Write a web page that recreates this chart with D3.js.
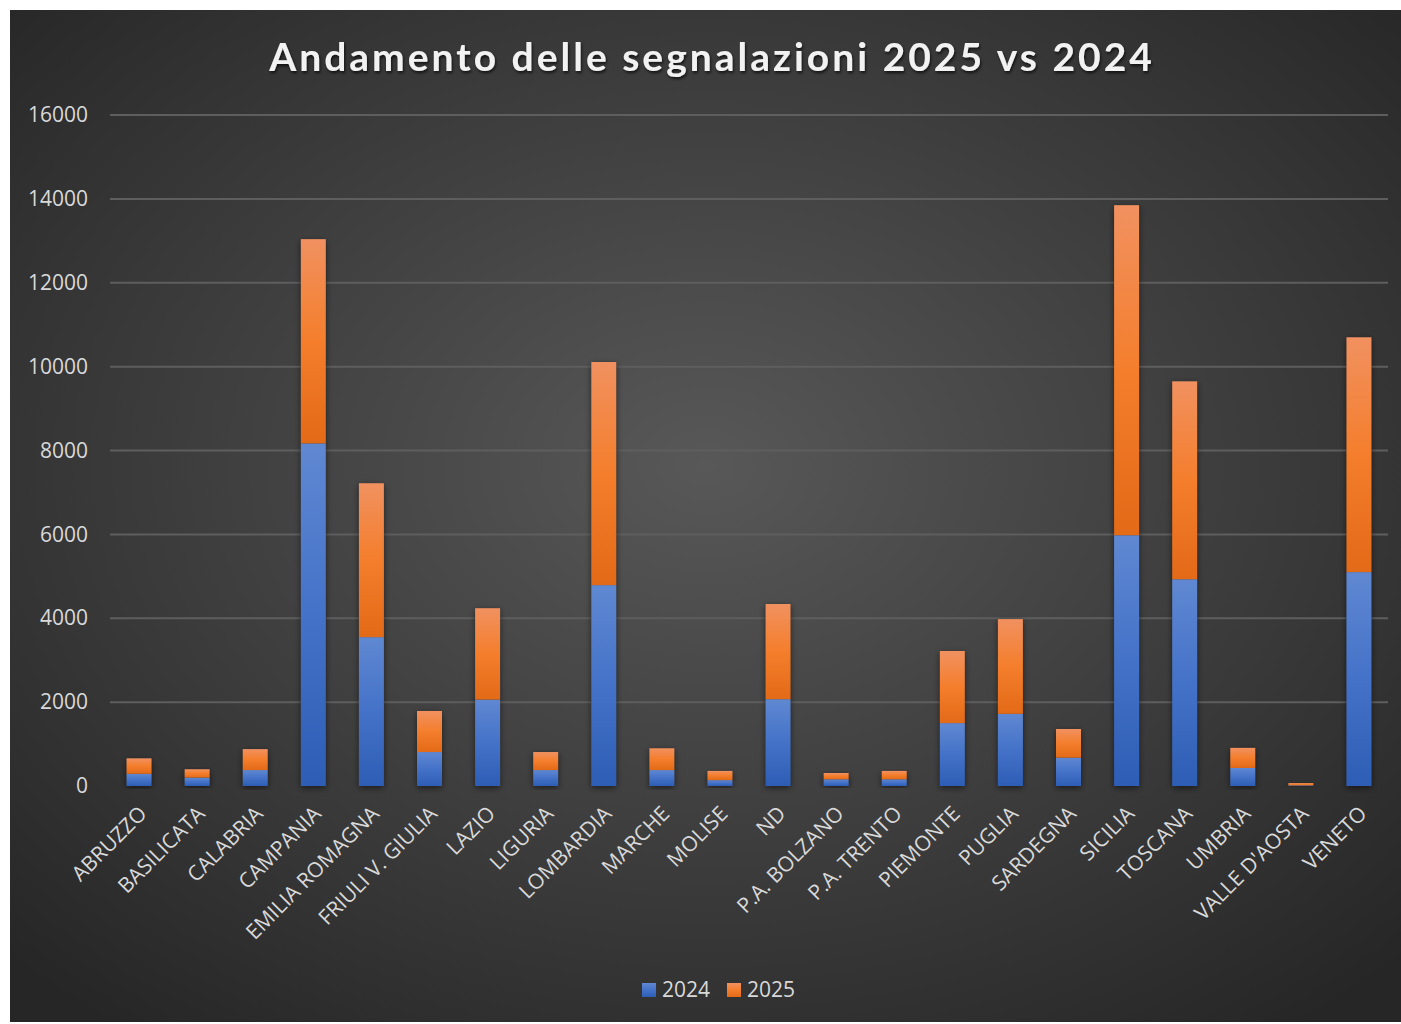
<!DOCTYPE html>
<html>
<head>
<meta charset="utf-8">
<script src="https://cdn.jsdelivr.net/npm/d3@7"></script>
<style>
  body { margin: 0; background: #ffffff; }
  svg { display: block; }
  .tick-label { font-family: "Open Sans", sans-serif; fill: #d9d9d9; }
</style>
</head>
<body>
<svg id="chart"></svg>
<script>
// categories and values
const regions = ["ABRUZZO", "BASILICATA", "CALABRIA", "CAMPANIA", "EMILIA ROMAGNA", "FRIULI V. GIULIA",
    "LAZIO", "LIGURIA", "LOMBARDIA", "MARCHE", "MOLISE", "ND", "P.A. BOLZANO", "P.A. TRENTO",
    "PIEMONTE", "PUGLIA", "SARDEGNA", "SICILIA", "TOSCANA", "UMBRIA", "VALLE D'AOSTA", "VENETO"];
const values2024 = [290, 200, 380, 8170, 3550, 810, 2060, 380, 4790, 380, 140, 2070, 160, 160,
    1500, 1720, 675, 5980, 4930, 430, 15, 5100];
const values2025 = [370, 200, 500, 4870, 3670, 980, 2180, 430, 5320, 520, 220, 2270, 150, 200,
    1720, 2260, 685, 7870, 4720, 480, 55, 5600];
const yTicks = [0, 2000, 4000, 6000, 8000, 10000, 12000, 14000, 16000];
const seriesNames = ["2024", "2025"];

const width = 1401, height = 1024;
const margin = { top: 115, right: 13, bottom: 238, left: 110 };
const chartWidth = width - margin.left - margin.right;
const chartHeight = height - margin.top - margin.bottom;

const svg = d3.select("#chart").attr("width", width).attr("height", height);
const defs = svg.append("defs");

// background radial gradient
const bg = defs.append("radialGradient").attr("id", "bg")
    .attr("cx", "50%").attr("cy", "45%").attr("r", "70%");
bg.append("stop").attr("offset", "0%").attr("stop-color", "#585858");
bg.append("stop").attr("offset", "100%").attr("stop-color", "#262626");

// bar gradients (lighter top, darker bottom)
const blueGrad = defs.append("linearGradient").attr("id", "blueGrad").attr("x1", 0).attr("y1", 0).attr("x2", 0).attr("y2", 1);
blueGrad.append("stop").attr("offset", "0%").attr("stop-color", "#6088d2");
blueGrad.append("stop").attr("offset", "50%").attr("stop-color", "#4472c8");
blueGrad.append("stop").attr("offset", "100%").attr("stop-color", "#2e5db5");
const orangeGrad = defs.append("linearGradient").attr("id", "orangeGrad").attr("x1", 0).attr("y1", 0).attr("x2", 0).attr("y2", 1);
orangeGrad.append("stop").attr("offset", "0%").attr("stop-color", "#f19160");
orangeGrad.append("stop").attr("offset", "50%").attr("stop-color", "#f47e2c");
orangeGrad.append("stop").attr("offset", "100%").attr("stop-color", "#e36a17");

const shadow = defs.append("filter").attr("id", "shadow")
    .attr("x", "-40%").attr("y", "-10%").attr("width", "180%").attr("height", "120%");
shadow.append("feDropShadow").attr("dx", 0).attr("dy", 2).attr("stdDeviation", 3)
    .attr("flood-color", "#000").attr("flood-opacity", 0.55);

const textShadow = defs.append("filter").attr("id", "textShadow");
textShadow.append("feDropShadow").attr("dx", 1).attr("dy", 2).attr("stdDeviation", 1.5)
    .attr("flood-color", "#000").attr("flood-opacity", 0.7);

svg.append("rect").attr("x", 10).attr("y", 10).attr("width", width - 10).attr("height", height - 12)
    .attr("fill", "url(#bg)");

// title
svg.append("text")
    .attr("x", 712).attr("y", 71)
    .attr("text-anchor", "middle")
    .attr("font-family", "Lato, sans-serif")
    .attr("font-weight", "bold")
    .attr("font-size", 39)
    .attr("letter-spacing", 3)
    .attr("fill", "#f2f2f2")
    .attr("filter", "url(#textShadow)")
    .text("Andamento delle segnalazioni 2025 vs 2024");

const chart = svg.append("g").attr("transform", `translate(${margin.left},${margin.top})`);

const xScale = d3.scaleBand().domain(regions).range([0, chartWidth]).paddingInner(0.57).paddingOuter(0.285);
const yScale = d3.scaleLinear().domain([0, 16000]).range([chartHeight, 0]);

// gridlines
chart.append("g")
    .selectAll("line")
    .data(yTicks.slice(1))
    .join("line")
    .attr("x1", 0).attr("x2", chartWidth)
    .attr("y1", d => yScale(d)).attr("y2", d => yScale(d))
    .attr("stroke", "#5e5e5e").attr("stroke-width", 2);

// y axis labels
const yAxis = chart.append("g")
    .call(d3.axisLeft(yScale).tickValues(yTicks).tickSize(0).tickPadding(22).tickFormat(d3.format("d")));
yAxis.select(".domain").remove();
yAxis.selectAll("text").attr("class", "tick-label").attr("font-size", 21);

// stacked bars
const rows = regions.map((r, i) => ({ region: r, "2024": values2024[i], "2025": values2025[i] }));
const stacked = d3.stack().keys(seriesNames)(rows);
const fills = { "2024": "url(#blueGrad)", "2025": "url(#orangeGrad)" };

// shadow layer under each full bar
chart.append("g")
    .selectAll("rect")
    .data(rows)
    .join("rect")
    .attr("x", d => xScale(d.region))
    .attr("y", d => yScale(d["2024"] + d["2025"]))
    .attr("width", xScale.bandwidth())
    .attr("height", d => chartHeight - yScale(d["2024"] + d["2025"]))
    .attr("fill", "#333")
    .attr("filter", "url(#shadow)");

chart.selectAll(".series")
    .data(stacked)
    .join("g")
    .attr("class", "series")
    .selectAll("rect")
    .data(s => s.map(d => ({ d, key: s.key })))
    .join("rect")
    .attr("x", e => xScale(e.d.data.region))
    .attr("y", e => yScale(e.d[1]))
    .attr("width", xScale.bandwidth())
    .attr("height", e => yScale(e.d[0]) - yScale(e.d[1]))
    .attr("fill", e => fills[e.key]);

// x axis line
chart.append("line")
    .attr("x1", 0).attr("x2", chartWidth)
    .attr("y1", chartHeight).attr("y2", chartHeight)
    .attr("stroke", "#a6a6a6").attr("stroke-width", 3)
    .attr("filter", "url(#shadow)");

// category labels rotated
const xAxis = chart.append("g")
    .attr("transform", `translate(0,${chartHeight})`)
    .call(d3.axisBottom(xScale).tickSize(0).tickPadding(0));
xAxis.select(".domain").remove();
xAxis.selectAll("text")
    .attr("class", "tick-label")
    .attr("font-size", 21)
    .attr("text-anchor", "end")
    .attr("dy", 0)
    .attr("transform", "translate(9,29) rotate(-45)");

// legend
const legend = svg.append("g").attr("transform", "translate(642,983)");
const legendItem = legend.selectAll("g")
    .data(seriesNames)
    .join("g")
    .attr("transform", (d, i) => `translate(${i * 85},0)`);
legendItem.append("rect").attr("width", 14).attr("height", 14)
    .attr("fill", d => fills[d]);
legendItem.append("text")
    .attr("class", "tick-label")
    .attr("x", 20).attr("y", 14)
    .attr("font-size", 21)
    .text(d => d);
</script>
</body>
</html>
